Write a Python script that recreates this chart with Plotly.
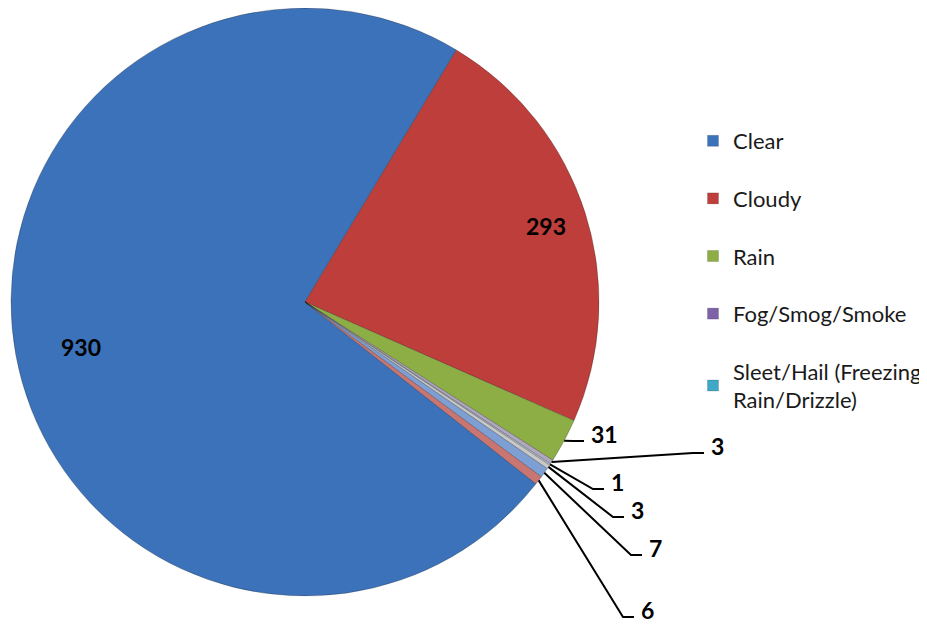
import numpy as np
import plotly.graph_objects as go

# the page puts the plot 8px in from the top-left corner
OFF = 8
W, H = 927 - OFF, 627 - OFF

# data
weather = ["Clear", "Cloudy", "Rain", "Fog/Smog/Smoke",
           "Sleet/Hail (Freezing Rain/Drizzle)", "Snow",
           "Severe Crosswinds", "Other"]
counts = [930, 293, 31, 3, 1, 3, 7, 6]
legend_names = ["Clear", "Cloudy", "Rain", "Fog/Smog/Smoke",
                "Sleet/Hail (Freezing<br>Rain/Drizzle)"]

# styles
slice_colors = ["#3C72BA", "#BD3E3A", "#8CAE45", "#B0A8C0",
                "#B4C8CF", "#C8C8C8", "#7E9FD3", "#C97572"]
legend_colors = ["#3C72BA", "#BD3E3A", "#8CAE45", "#7E62A8", "#3FA8C6"]
FONT = "Lato"

# pie geometry (screen pixels)
cx, cy, r = 305, 302, 294
split_angle = 31  # boundary Clear / Cloudy, clockwise from 12 o'clock
total = sum(counts)
rotation = (split_angle - counts[0] / total * 360) % 360

# label placement: inside labels by radius fraction, outside by text position
inside_frac = {0: 0.85, 1: 0.86}
outside_pos = {2: (590, 434), 3: (710, 446), 4: (610, 482),
               5: (630, 510), 6: (648, 548), 7: (640, 610)}


def px(x, y):
    # screen pixels -> paper coordinates
    return (x - OFF) / W, 1 - (y - OFF) / H


fig = go.Figure()
x0, y0 = px(cx - r, cy + r)
x1, y1 = px(cx + r, cy - r)
fig.add_trace(go.Pie(
    labels=weather, values=counts, sort=False, direction="clockwise",
    rotation=rotation, textinfo="none", showlegend=False,
    marker=dict(colors=slice_colors,
                line=dict(color="rgba(30,30,30,0.35)", width=0.8)),
    domain=dict(x=[max(x0, 0), min(x1, 1)], y=[max(y0, 0), min(y1, 1)]),
))

# legend entries (only the first five categories are listed)
for i, name in enumerate(legend_names):
    fig.add_trace(go.Scatter(
        x=[None], y=[None], mode="markers", name=name, legendgroup=str(i),
        marker=dict(symbol="square", size=11, color=legend_colors[i],
                    line=dict(color="rgba(0,0,0,0.3)", width=0.5)),
    ))

cum = np.cumsum([0] + counts[:-1])
shapes, annotations = [], []
for i, v in enumerate(counts):
    a = np.radians(rotation + (cum[i] + v / 2) / total * 360)
    if i in inside_frac:
        rr = r * inside_frac[i]
        x, y = px(cx + rr * np.sin(a), cy - rr * np.cos(a))
        annotations.append(dict(x=x, y=y, xref="paper", yref="paper",
                                text=f"<b>{v}</b>", showarrow=False,
                                font=dict(family=FONT, size=23, color="black")))
        continue
    lx, ly = outside_pos[i]
    ex, ey = cx + r * np.sin(a), cy - r * np.cos(a)
    p0, p1, p2 = px(ex, ey), px(lx - 17, ly + 7), px(lx - 6, ly + 7)
    shapes.append(dict(type="path", xref="paper", yref="paper",
                       path=f"M {p0[0]} {p0[1]} L {p1[0]} {p1[1]} L {p2[0]} {p2[1]}",
                       line=dict(color="black", width=2)))
    x, y = px(lx, ly)
    annotations.append(dict(x=x, y=y, xref="paper", yref="paper",
                            xanchor="left", yanchor="middle", borderpad=0,
                            text=f"<b>{v}</b>", showarrow=False,
                            font=dict(family=FONT, size=23, color="black")))

lgx, lgy = px(693, 120)
fig.update_layout(
    width=W, height=H,
    margin=dict(l=0, r=0, t=0, b=0),
    paper_bgcolor="white", plot_bgcolor="white",
    xaxis=dict(visible=False), yaxis=dict(visible=False),
    shapes=shapes, annotations=annotations,
    legend=dict(x=lgx, y=lgy, xanchor="left", yanchor="top",
                font=dict(family=FONT, size=22, color="#1a1a1a"),
                tracegroupgap=26, itemclick=False),
)

fig.write_html("out.html")
